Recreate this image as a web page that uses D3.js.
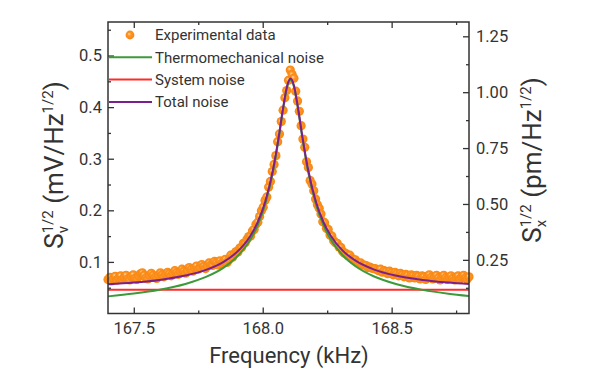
<!DOCTYPE html>
<html>
<head>
<meta charset="utf-8">
<script src="https://cdn.jsdelivr.net/npm/d3@7"></script>
<style>
  body { margin: 0; background: #fff; }
  text { font-family: Roboto, sans-serif; fill: #333; }
</style>
</head>
<body>
<svg width="606" height="386"></svg>
<script>
const width = 606;
const height = 386;

// experimental sweep: 167.4 kHz to 168.8 kHz, one point every 7 Hz
const expFreqStart = 167.4;
const expFreqStep = 0.007;
const expValues = [
  0.066,0.070,0.063,0.068,0.072,0.065,0.069,0.073,0.066,0.070,
  0.074,0.067,0.065,0.071,0.075,0.068,0.066,0.072,0.077,0.079,
  0.074,0.069,0.067,0.073,0.078,0.074,0.070,0.068,0.074,0.079,
  0.075,0.071,0.076,0.080,0.077,0.073,0.078,0.083,0.079,0.076,
  0.081,0.086,0.082,0.078,0.083,0.089,0.085,0.082,0.088,0.092,
  0.086,0.089,0.095,0.091,0.087,0.092,0.098,0.094,0.093,0.101,
  0.098,0.094,0.102,0.097,0.100,0.105,0.099,0.104,0.113,0.109,
  0.116,0.120,0.119,0.127,0.128,0.136,0.137,0.144,0.149,0.150,
  0.160,0.163,0.173,0.177,0.188,0.199,0.206,0.219,0.226,0.245,
  0.256,0.275,0.289,0.306,0.333,0.348,0.372,0.394,0.418,0.432,
  0.452,0.472,0.463,0.456,0.431,0.412,0.392,0.364,0.338,0.322,
  0.294,0.283,0.258,0.251,0.238,0.222,0.211,0.204,0.193,0.178,
  0.176,0.165,0.163,0.152,0.150,0.141,0.137,0.136,0.129,0.128,
  0.120,0.117,0.116,0.112,0.113,0.107,0.104,0.104,0.099,0.097,
  0.098,0.094,0.094,0.093,0.089,0.090,0.088,0.087,0.087,0.085,
  0.083,0.086,0.080,0.083,0.081,0.077,0.082,0.079,0.075,0.080,
  0.077,0.073,0.078,0.075,0.071,0.076,0.074,0.069,0.075,0.073,
  0.069,0.074,0.072,0.067,0.073,0.071,0.066,0.072,0.075,0.070,
  0.067,0.071,0.074,0.069,0.065,0.071,0.074,0.069,0.066,0.070,
  0.073,0.068,0.065,0.070,0.073,0.067,0.071,0.074,0.069,0.067,
  0.071
];

// fitted curves
const fitFreq = [167.40,167.50,167.60,167.70,167.78,167.85,167.90,167.95,167.98,168.01,
  168.04,168.06,168.08,168.095,168.108,168.12,168.135,168.155,168.175,168.205,
  168.235,168.265,168.31,168.36,168.43,168.52,168.62,168.72,168.80];
const thermoValues = [0.0332,0.0386,0.0461,0.0573,0.0709,0.0895,0.1099,0.1416,0.1705,0.2123,
  0.2752,0.3329,0.3988,0.4394,0.453,0.4414,0.4020,0.3361,0.2777,0.2141,
  0.1717,0.1424,0.1129,0.0916,0.0722,0.0567,0.0458,0.0384,0.0339];
const totalValues = [0.0567,0.0600,0.0651,0.0735,0.0845,0.1006,0.1191,0.1489,0.1766,0.2172,
  0.2790,0.3360,0.4014,0.4418,0.4553,0.4438,0.4046,0.3393,0.2815,0.2190,
  0.1778,0.1497,0.1219,0.1025,0.0856,0.0730,0.0649,0.0599,0.0571];
const systemFreq = [167.4, 168.8];
const systemValues = [0.046, 0.046];

const xTicks = [167.5, 168.0, 168.5];
const xMinor = [167.75, 168.25, 168.75];
const yTicks = [0.1, 0.2, 0.3, 0.4, 0.5];
const yMinor = [0.05, 0.15, 0.25, 0.35, 0.45, 0.55];
const y2Ticks = [0.25, 0.50, 0.75, 1.00, 1.25];
const y2Minor = [0.125, 0.375, 0.625, 0.875, 1.125];

const legendItems = [
  {label: "Experimental data", type: "dot"},
  {label: "Thermomechanical noise", type: "line", color: "#3d9a3a"},
  {label: "System noise", type: "line", color: "#ff2a2a"},
  {label: "Total noise", type: "line", color: "#7c1f8e"}
];

const x = d3.scaleLinear().domain([167.4, 168.8]).range([108, 469]);
const y = d3.scaleLinear().domain([0, 0.565]).range([313.5, 22]);
const y2 = d3.scaleLinear().domain([0.01, 1.314]).range([313.5, 22]);

const svg = d3.select("svg");

const defs = svg.append("defs");
const grad = defs.append("radialGradient")
    .attr("id", "ball")
    .attr("fx", "38%").attr("fy", "35%");
grad.append("stop").attr("offset", "0%").attr("stop-color", "#ffdcb4");
grad.append("stop").attr("offset", "40%").attr("stop-color", "#ff9526");
grad.append("stop").attr("offset", "100%").attr("stop-color", "#f7860f");

// data points
const pts = expValues.map((v, i) => ({f: expFreqStart + i * expFreqStep, v: v}));
svg.append("g")
  .selectAll("circle")
  .data(pts)
  .join("circle")
    .attr("cx", d => x(d.f))
    .attr("cy", d => y(d.v))
    .attr("r", 4.6)
    .attr("fill", "url(#ball)");

const line = d3.line()
    .x(d => x(d[0]))
    .y(d => y(d[1]))
    .curve(d3.curveMonotoneX);

svg.append("path")
    .attr("d", line(systemFreq.map((f, i) => [f, systemValues[i]])))
    .attr("fill", "none").attr("stroke", "#ff2a2a").attr("stroke-width", 2);
svg.append("path")
    .attr("d", line(fitFreq.map((f, i) => [f, thermoValues[i]])))
    .attr("fill", "none").attr("stroke", "#3d9a3a").attr("stroke-width", 2);
svg.append("path")
    .attr("d", line(fitFreq.map((f, i) => [f, totalValues[i]])))
    .attr("fill", "none").attr("stroke", "#7c1f8e").attr("stroke-width", 2);

// axes, ticks pointing in
const tickStyle = g => {
  g.select(".domain").remove();
  g.selectAll("line").attr("stroke", "#333").attr("stroke-width", 1.3);
  g.selectAll("text").style("font-size", "16.5px").attr("fill", "#333");
};

svg.append("g").attr("transform", "translate(0,313.5)")
  .call(d3.axisBottom(x).tickValues(xTicks).tickSize(-6).tickPadding(9).tickFormat(d3.format(".1f")))
  .call(tickStyle);
svg.append("g").attr("transform", "translate(0,313.5)")
  .call(d3.axisBottom(x).tickValues(xMinor).tickSize(-3).tickFormat(""))
  .call(tickStyle);
svg.append("g").attr("transform", "translate(0,22)")
  .call(d3.axisTop(x).tickValues(xTicks).tickSize(-6).tickFormat(""))
  .call(tickStyle);
svg.append("g").attr("transform", "translate(0,22)")
  .call(d3.axisTop(x).tickValues(xMinor).tickSize(-3).tickFormat(""))
  .call(tickStyle);

svg.append("g").attr("transform", "translate(108,0)")
  .call(d3.axisLeft(y).tickValues(yTicks).tickSize(-6).tickPadding(6).tickFormat(d3.format(".1f")))
  .call(tickStyle);
svg.append("g").attr("transform", "translate(108,0)")
  .call(d3.axisLeft(y).tickValues(yMinor).tickSize(-3).tickFormat(""))
  .call(tickStyle);

svg.append("g").attr("transform", "translate(469,0)")
  .call(d3.axisRight(y2).tickValues(y2Ticks).tickSize(-6).tickPadding(7).tickFormat(d3.format(".2f")))
  .call(tickStyle);
svg.append("g").attr("transform", "translate(469,0)")
  .call(d3.axisRight(y2).tickValues(y2Minor).tickSize(-3).tickFormat(""))
  .call(tickStyle);

svg.append("rect")
    .attr("x", 108).attr("y", 22)
    .attr("width", 361).attr("height", 291.5)
    .attr("fill", "none").attr("stroke", "#333").attr("stroke-width", 1.5);

// legend
const legend = svg.append("g");
legendItems.forEach((d, i) => {
  const cy = 35 + i * 22.3;
  if (d.type === "dot") {
    legend.append("circle").attr("cx", 130).attr("cy", cy).attr("r", 4.4).attr("fill", "url(#ball)");
  } else {
    legend.append("line")
        .attr("x1", 109).attr("x2", 152).attr("y1", cy).attr("y2", cy)
        .attr("stroke", d.color).attr("stroke-width", 2);
  }
  legend.append("text")
      .attr("x", 155).attr("y", cy + 5.3)
      .style("font-size", "15px")
      .text(d.label);
});

// axis titles
svg.append("text")
    .attr("x", 289).attr("y", 363)
    .attr("text-anchor", "middle")
    .style("font-size", "22px")
    .text("Frequency (kHz)");

function sLabel(g, sub, unit) {
  const t = g.append("text").attr("text-anchor", "middle").style("font-size", "26px");
  t.append("tspan").text("S");
  const sup = t.append("tspan").style("font-size", "15px").attr("dy", -10).text("1/2");
  const supW = sup.node().getComputedTextLength();
  const sb = t.append("tspan").style("font-size", "15px").attr("dx", -supW).attr("dy", 15).text(sub);
  const subW = sb.node().getComputedTextLength();
  t.append("tspan").attr("dx", supW - subW).attr("dy", -5).text(" (" + unit + "/Hz");
  t.append("tspan").style("font-size", "15px").attr("dy", -10).text("1/2");
  t.append("tspan").attr("dy", 10).text(")");
  return t;
}

sLabel(svg.append("g").attr("transform", "translate(63,165) rotate(-90)"), "v", "mV");
sLabel(svg.append("g").attr("transform", "translate(541,160) rotate(-90)"), "x", "pm");
</script>
</body>
</html>
